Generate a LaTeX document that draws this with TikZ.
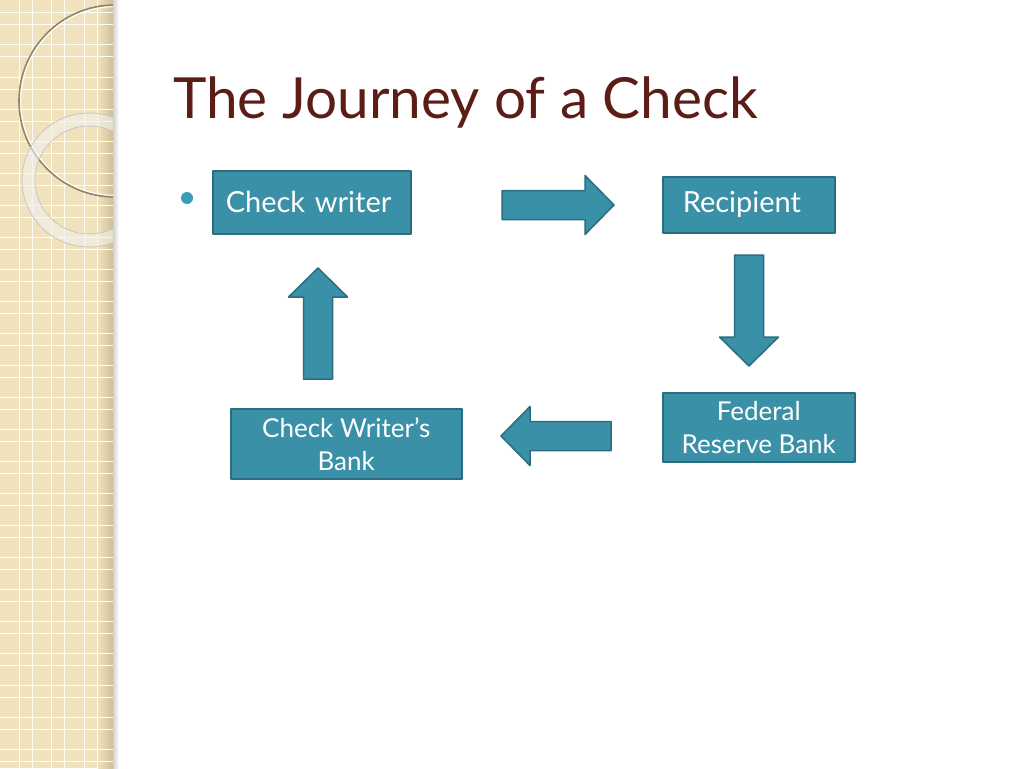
\documentclass[tikz,border=0pt]{standalone}
\usepackage{fontspec}
\setmainfont{Lato}
\usepackage{xcolor}
\usepackage{tikz}
\usetikzlibrary{positioning,calc}

\definecolor{boxfill}{HTML}{3A90A7}
\definecolor{boxline}{HTML}{2A6D80}
\definecolor{titlebrown}{HTML}{5B1D15}
\definecolor{stripbeige}{HTML}{F0E2BD}
\definecolor{stripshade}{HTML}{CDBE94}
\definecolor{bulletteal}{HTML}{3A9DB8}

\begin{document}
\begin{tikzpicture}[x=1pt,y=-1pt,line join=round,
  box/.style={draw=boxline,line width=1.5pt,fill=boxfill,text=white,inner sep=0pt,font=\fontsize{29}{33}\selectfont},
  title/.style={text=titlebrown,inner sep=0pt,font=\fontsize{56.7}{61}\selectfont}]

  \useasboundingbox[fill=white] (0,0) rectangle (1024,768);

  % #1 is tail
  % #2 is tip
  \newcommand{\blockarrow}[2]{
    \coordinate (T) at (#1);
    \coordinate (P) at (#2);
    \coordinate (B) at ($(P)!29pt!(T)$);

    \path[draw=boxline,line width=1.5pt,fill=boxfill]
      ($(T)!14.5pt!90:(P)$) -- ($(B)!14.5pt!-90:(T)$) -- ($(B)!29.5pt!-90:(T)$) -- (P)
      -- ($(B)!29.5pt!90:(T)$) -- ($(B)!14.5pt!90:(T)$) -- ($(T)!14.5pt!-90:(P)$) -- cycle;
  }

  % left strip
  \begin{scope}
    \clip (0,0) rectangle (113,768);
    \fill[stripbeige] (0,0) rectangle (113,768);
    \shade[left color=stripbeige,right color=stripshade] (98,0) rectangle (113,768);
    \foreach \k in {0,...,23}{
      \draw[white,line width=1pt,opacity=0.9] (0,{13+32*\k}) -- (113,{13+32*\k});
      \draw[white,line width=1pt,opacity=0.9] (0,{25+32*\k}) -- (113,{25+32*\k});
    }
    \foreach \k in {0,...,3}{
      \draw[white,line width=1pt,opacity=0.9] ({19+32.5*\k},0) -- ({19+32.5*\k},768);
      \draw[white,line width=1pt,opacity=0.9] ({32+32.5*\k},0) -- ({32+32.5*\k},768);
    }
    \draw[stripshade!70!black,line width=1.6pt] (115,101) circle (96pt);
    \draw[white,line width=1pt] (115,101) circle (94.3pt);
    \fill[black!6,opacity=0.6,even odd rule] (89,180) circle (67pt) (89,180) circle (54pt);
    \draw[black!25,line width=0.6pt] (89,180) circle (67pt) (89,180) circle (54pt);
  \end{scope}
  \shade[left color=black!18,right color=white] (113,0) rectangle (119,768);

  \node[title,anchor=base west] (title) at (173,118) {The Journey of a Check};
  \node[circle,fill=bulletteal,inner sep=0pt,minimum size=12pt] (dot) at (187,198) {};

  \node[box,anchor=north west,text width=172pt,inner xsep=13pt,minimum height=63pt,align=left] (writer) at (212,170) {Check writer};
  \node[box,anchor=north west,text width=132pt,inner xsep=20pt,minimum height=56pt,align=left] (recipient) at (662,176) {Recipient};
  \node[box,anchor=north west,minimum width=192pt,minimum height=69pt,align=center,font=\fontsize{26}{33}\selectfont] (fedbank) at (662,392) {Federal\\Reserve Bank};
  \node[box,anchor=north west,minimum width=231pt,minimum height=70pt,align=center,font=\fontsize{26}{33}\selectfont] (writerbank) at (230,408) {Check Writer’s\\Bank};

  \coordinate (1-tail) at (502,205);
  \coordinate (1-tip) at (614,205);
  \coordinate (2-tail) at (749,255);
  \coordinate (2-tip) at (749,366);
  \coordinate (3-tail) at (611,436);
  \coordinate (3-tip) at (501,436);
  \coordinate (4-tail) at (318,379);
  \coordinate (4-tip) at (318,268);

  \blockarrow{1-tail}{1-tip}
  \blockarrow{2-tail}{2-tip}
  \blockarrow{3-tail}{3-tip}
  \blockarrow{4-tail}{4-tip}

\end{tikzpicture}
\end{document}
